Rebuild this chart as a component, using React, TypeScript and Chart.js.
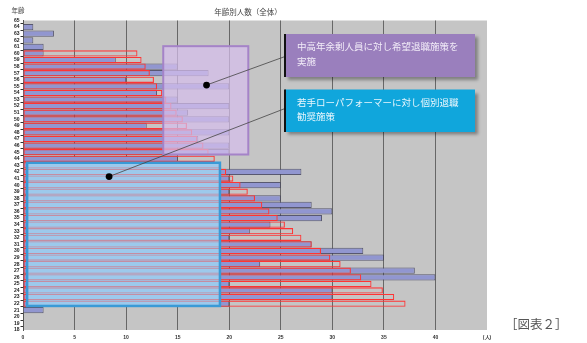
import React, { useEffect, useRef } from 'react';
import { Chart, registerables } from 'chart.js';
Chart.register(...registerables);

// ages 18..65 (bottom to top)
const ages: string[] = [];
for (let a = 18; a <= 65; a++) ages.push(String(a));

// current headcount (filled lavender bars), age 18 -> 65
const current = [
  0, 0, 0, 2, 20, 30, 30, 20, 40, 38, // 18-27
  23, 35, 33, 28, 20, 22, 24, 29, 30, 28, // 28-37
  25, 20, 25, 20, 27, 18, 15, 20, 20, 17, // 38-47
  20, 12, 20, 16, 20, 15, 13, 20, 10, 18, // 48-57
  15, 9, 2, 2, 1, 3, 1, 0, // 58-65
];

// target headcount (red outline bars), age 18 -> 65
const target = [
  null, null, null, null, 37.1, 36.0, 34.9, 33.8, 32.8, 31.8, // 18-27
  30.8, 29.8, 28.9, 28.0, 27.0, 26.2, 25.4, 24.7, 23.9, 23.2, // 28-37
  22.5, 21.8, 21.1, 20.4, 19.7, 19.1, 18.6, 18.0, 17.5, 16.9, // 38-47
  16.4, 15.9, 15.5, 14.9, 14.4, 13.9, 13.5, 13.0, 12.7, 12.3, // 48-57
  11.9, 11.5, 11.1, null, null, null, null, null, // 58-65
];

const xTicksMax = 45;
const unitLabel = '(人)';
const titleText = '年齢別人数（全体）';
const yTitle = '年齢';
const figLabel = '［図表２］';

// highlight regions (data coords: value range, age range)
const blueBox = { x0: 0.4, x1: 19.1, a0: 21.65, a1: 43.4 };
const purpleBox = { x0: 13.6, x1: 21.85, a0: 44.65, a1: 61.1 };
const purpleDot = { x: 17.8, a: 55.2 };
const blueDot = { x: 8.35, a: 41.3 };
const purpleNote = ['中高年余剰人員に対し希望退職施策を', '実施'];
const blueNote = ['若手ローパフォーマーに対し個別退職', '勧奨施策'];

const JP = '"Noto Sans CJK JP", "Noto Sans", sans-serif';

export default function App() {
  const ref = useRef<HTMLCanvasElement | null>(null);
  useEffect(() => {
    const canvas = ref.current!;
    const xp = (chart: any, v: number) => chart.scales.x.getPixelForValue(v);
    const yp = (chart: any, age: number) => chart.scales.y.getPixelForValue(age - 18);
    const rectOf = (chart: any, b: any) => {
      const l = xp(chart, b.x0), r = xp(chart, b.x1);
      const t = yp(chart, b.a1), bo = yp(chart, b.a0);
      return { l, r, t, bo };
    };
    const plugin = {
      id: 'overlay',
      beforeDraw(chart: any) {
        const { ctx, chartArea: a } = chart;
        ctx.save();
        ctx.fillStyle = '#c5c5c5';
        ctx.fillRect(a.left, a.top, a.right - a.left, a.bottom - a.top);
        ctx.restore();
      },
      beforeDatasetDraw(chart: any, args: any) {
        if (args.index === 0) {
          const { ctx } = chart;
          const r = rectOf(chart, blueBox);
          ctx.save();
          ctx.fillStyle = '#9dc9ec';
          ctx.fillRect(r.l, r.t, r.r - r.l, r.bo - r.t);
          ctx.restore();
        }
      },
      afterDatasetsDraw(chart: any) {
        const { ctx } = chart;
        ctx.save();
        let r = rectOf(chart, blueBox);
        ctx.fillStyle = 'rgba(157,201,236,0.6)';
        ctx.fillRect(r.l, r.t, r.r - r.l, r.bo - r.t);
        ctx.strokeStyle = '#3a9ad6';
        ctx.lineWidth = 2.5;
        ctx.strokeRect(r.l, r.t, r.r - r.l, r.bo - r.t);
        r = rectOf(chart, purpleBox);
        ctx.fillStyle = 'rgba(214,190,236,0.72)';
        ctx.fillRect(r.l, r.t, r.r - r.l, r.bo - r.t);
        ctx.strokeStyle = '#a583c8';
        ctx.lineWidth = 2;
        ctx.strokeRect(r.l, r.t, r.r - r.l, r.bo - r.t);
        // connectors
        const conns = [
          { d: purpleDot, ex: 285, ey: 56.5 },
          { d: blueDot, ex: 285, ey: 108.5 },
        ];
        for (const c of conns) {
          const dx = xp(chart, c.d.x), dy = yp(chart, c.d.a);
          ctx.strokeStyle = '#444';
          ctx.lineWidth = 0.8;
          ctx.beginPath();
          ctx.moveTo(dx, dy);
          ctx.lineTo(c.ex, c.ey);
          ctx.stroke();
          ctx.fillStyle = '#000';
          ctx.beginPath();
          ctx.arc(dx, dy, 3.4, 0, Math.PI * 2);
          ctx.fill();
        }
        ctx.restore();
      },
      afterDraw(chart: any) {
        const { ctx } = chart;
        ctx.save();
        const notes = [
          { y: 34, h: 43, fill: '#9a7fbd', text: purpleNote, color: '#f2ecf8' },
          { y: 89.5, h: 42.5, fill: '#10a6dc', text: blueNote, color: '#eaf7fd' },
        ];
        for (const n of notes) {
          ctx.save();
          ctx.shadowColor = 'rgba(0,0,0,0.35)';
          ctx.shadowOffsetX = 3;
          ctx.shadowOffsetY = 3;
          ctx.shadowBlur = 3;
          ctx.fillStyle = n.fill;
          ctx.fillRect(285, n.y, 190, n.h);
          ctx.restore();
          ctx.fillStyle = '#111';
          ctx.fillRect(284, n.y, 2, n.h);
          ctx.fillStyle = n.color;
          ctx.font = `9.5px ${JP}`;
          ctx.textBaseline = 'middle';
          ctx.textAlign = 'left';
          ctx.fillText(n.text[0], 297, n.y + 12.7);
          ctx.fillText(n.text[1], 297, n.y + 27.2);
        }
        ctx.fillStyle = '#444';
        ctx.textAlign = 'center';
        ctx.textBaseline = 'middle';
        ctx.font = `7.5px ${JP}`;
        ctx.fillText(titleText, 248, 12);
        ctx.font = `6.5px ${JP}`;
        ctx.textAlign = 'left';
        ctx.fillText(yTitle, 11.5, 10.3);
        ctx.fillStyle = '#555';
        ctx.font = `12.5px ${JP}`;
        ctx.fillText(figLabel, 505, 324.5);
        ctx.restore();
      },
    };

    const chart = new Chart(canvas, {
      type: 'bar',
      data: {
        labels: ages,
        datasets: [
          {
            label: '目標',
            data: target as any,
            backgroundColor: 'rgba(0,0,0,0)',
            borderColor: '#ff3434',
            borderWidth: 1.1,
            borderSkipped: false,
            grouped: false,
            order: 0,
            barPercentage: 0.95,
            categoryPercentage: 1,
          },
          {
            label: '現状',
            data: current,
            backgroundColor: '#9196d0',
            borderColor: 'rgba(60,60,90,0.8)',
            borderWidth: 1,
            grouped: false,
            order: 1,
            barPercentage: 0.95,
            categoryPercentage: 1,
          },
        ],
      },
      options: {
        indexAxis: 'y',
        responsive: false,
        animation: false,
        devicePixelRatio: 1,
        layout: { padding: { top: 20.5, right: 100, left: 0, bottom: 0 } },
        plugins: { legend: { display: false }, tooltip: { enabled: false }, title: { display: false } },
        scales: {
          x: {
            type: 'linear',
            min: 0,
            max: xTicksMax,
            afterFit: (s: any) => { s.height = 13; },
            ticks: {
              stepSize: 5,
              padding: 5,
              color: '#333',
              font: { size: 5, weight: 'bold', family: '"Liberation Sans", Arial, sans-serif' },
              callback: (v: any) => (v === xTicksMax ? unitLabel : String(v)),
            },
            grid: {
              drawTicks: false,
              color: (c: any) => (c.tick && (c.tick.value === 0 || c.tick.value === xTicksMax) ? 'rgba(0,0,0,0)' : '#676767'),
              lineWidth: 1,
            },
            border: { display: false },
          },
          y: {
            type: 'category',
            reverse: true,
            offset: false,
            afterFit: (s: any) => { s.width = 23; },
            ticks: {
              autoSkip: false,
              padding: 1,
              color: '#222',
              font: { size: 5, weight: 'bold', family: '"Liberation Sans", Arial, sans-serif' },
            },
            grid: { drawOnChartArea: false, drawTicks: true, tickLength: 2.5, color: '#333' },
            border: { display: true, color: '#555', width: 1 },
          },
        },
      },
      plugins: [plugin],
    } as any);
    return () => chart.destroy();
  }, []);
  return (
    <div style={{ position: 'absolute', left: 0, top: 0, width: 587, height: 343, background: '#fff' }}>
      <canvas ref={ref} width={587} height={343} />
    </div>
  );
}
